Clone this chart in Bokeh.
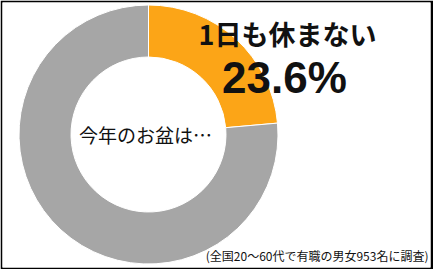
import math
from bokeh.plotting import figure
from bokeh.models import Range1d, ColumnDataSource
from bokeh.core.properties import value
from bokeh.embed import file_html
from bokeh.resources import INLINE

# ---- data ----
categories = ["1日も休まない", "その他"]
shares = [23.6, 76.4]
colors = ["#FCA517", "#A6A6A6"]
center_label = "今年のお盆は…"
headline = "1日も休まない"
headline_value = "23.6%"
note = "(全国20～60代で有職の男女953名に調査)"

W, H = 433, 269
def Y(y_img):
    return H - y_img

total = sum(shares)
starts, ends = [], []
acc = 0.0
for s in shares:
    starts.append(math.pi / 2 - 2 * math.pi * acc / total)
    acc += s
    ends.append(math.pi / 2 - 2 * math.pi * acc / total)

src = ColumnDataSource(dict(cat=categories, start=starts, end=ends, color=colors))

p = figure(width=W, height=H, output_backend="svg", toolbar_location=None,
           x_range=Range1d(2, 430), y_range=Range1d(Y(267), Y(2)),
           min_border_left=2, min_border_right=3, min_border_top=2, min_border_bottom=2,
           background_fill_color="white", border_fill_color="black")
p.axis.visible = False
p.xgrid.visible = False
p.ygrid.visible = False
p.outline_line_color = None

cx, cy = 148, Y(134)
p.annular_wedge(x=cx, y=cy, inner_radius=77.5, outer_radius=129.5,
                inner_radius_units="screen", outer_radius_units="screen",
                start_angle="start", end_angle="end", direction="clock",
                fill_color="color", line_color="white", line_width=1, source=src)

p.text(x=[287], y=[Y(33)], text=[headline], text_align="center", text_baseline="middle",
       text_font=value("Noto Sans CJK JP"), text_font_style="bold", text_font_size="27px",
       text_color="#111111")
p.text(x=[284], y=[Y(77)], text=[headline_value], text_align="center", text_baseline="middle",
       text_font=value("Liberation Sans"), text_font_style="bold", text_font_size="44px",
       text_color="#111111")
p.text(x=[145], y=[Y(134)], text=[center_label], text_align="center", text_baseline="middle",
       text_font=value("Noto Sans CJK JP"), text_font_size="19px", text_color="#111111")
p.text(x=[428], y=[Y(255)], text=[note], text_align="right", text_baseline="middle",
       text_font=value("Noto Sans CJK JP"), text_font_size="12px", text_color="#111111")

open("out.html", "w").write(file_html(p, INLINE))
